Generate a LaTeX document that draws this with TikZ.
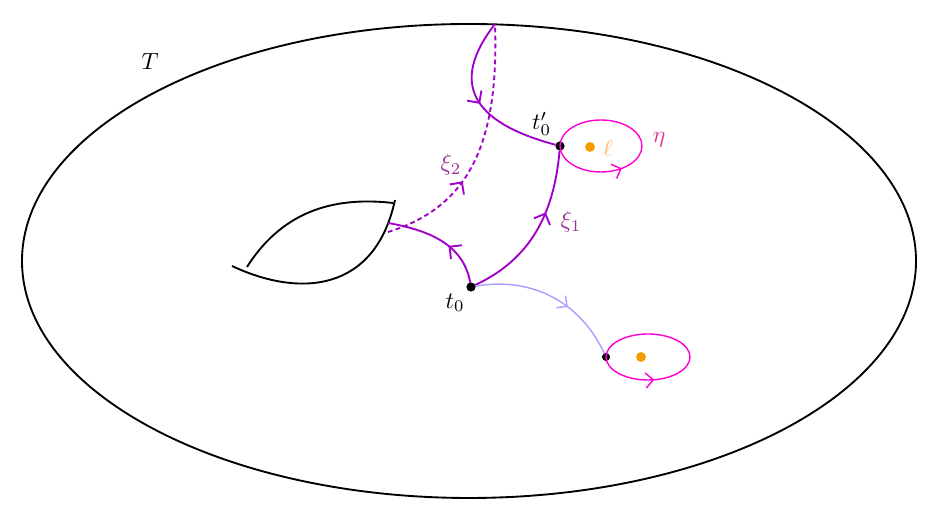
\documentclass[tikz,border=0pt]{standalone}
\usetikzlibrary{decorations.markings,arrows.meta}
\definecolor{xipurple}{RGB}{160,0,200}
\definecolor{xilabel}{RGB}{150,50,150}
\definecolor{loopmag}{RGB}{255,0,210}
\definecolor{etalabel}{RGB}{225,50,140}
\definecolor{lightpath}{RGB}{168,158,255}
\definecolor{holeorange}{RGB}{245,155,0}
\definecolor{elllabel}{RGB}{255,180,110}
\begin{document}
\begin{tikzpicture}[x=0.015cm,y=0.015cm]
\tikzset{point/.style = {draw, circle, fill=black, minimum size=3.5pt,inner sep=0pt},
  hole/.style = {circle, fill=holeorange, minimum size=4.2pt, inner sep=0pt},
  midarrow/.style = {postaction={decorate},
    decoration={markings, mark=at position #1 with {\arrow{Straight Barb[scale=1.2]}}}},
  midarrow/.default = 0.5}
\useasboundingbox (0,0) rectangle (942,522);
\draw[thick] (469,261) ellipse (447 and 237);
\node (T) at (150,460) {$T$};
% the hole
\draw[thick] (247,255) .. controls (285,315) and (340,325) .. (393,319);
\draw[thick] (232,256) .. controls (300,224) and (375,230) .. (395,322);
% points
\node[point,label={[label distance=-3pt]220:$t_0$}] (t0) at (471,235) {};
\node[point,label={[label distance=-1pt]105:$t'_0$}] (t1) at (560,376) {};
\node[point,minimum size=3pt] (p2) at (606,165) {};
\coordinate (a) at (388,299);
\coordinate (b) at (388,290);
\coordinate (q) at (495,498);
% paths
\draw[thick,xipurple,midarrow=0.4] (t0) to[out=100,in=-10] (a);
\draw[thick,xipurple,dash pattern=on 2pt off 1.4pt,midarrow=0.36]
  (b) .. controls (470,315) and (499,380) .. (q);
\draw[thick,xipurple,midarrow=0.5] (q) .. controls (450,440) and (470,400) .. (t1);
\draw[thick,xipurple,midarrow=0.62] (t0) to[out=25,in=-95] (t1);
\draw[semithick,lightpath,midarrow=0.62] (t0) to[out=10,in=115] (p2);
\node[xilabel] (xi1) at (571,300) {$\xi_1$};
\node[xilabel] (xi2) at (451,357) {$\xi_2$};
% loops
\draw[semithick,loopmag,midarrow=0.85] (601,376) ellipse (41 and 26);
\draw[semithick,loopmag,midarrow=0.78] (648,165) ellipse (42 and 23);
\node[etalabel] (eta) at (659,382) {$\eta$};
\node[hole] (h1) at (590,375) {};
\node[elllabel] (ell) at (608,374) {$\ell$};
\node[hole] (h2) at (641,165) {};
\end{tikzpicture}
\end{document}
